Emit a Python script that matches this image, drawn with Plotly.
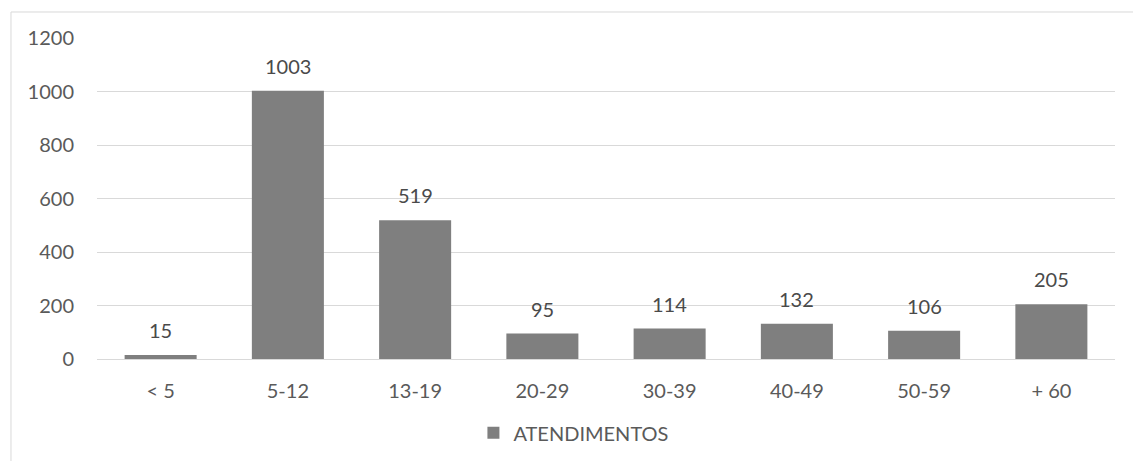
import plotly.graph_objects as go

categories = ["< 5", "5-12", "13-19", "20-29", "30-39", "40-49", "50-59", "+ 60"]
values = [15, 1003, 519, 95, 114, 132, 106, 205]
series_name = "ATENDIMENTOS"
y_ticks = [0, 200, 400, 600, 800, 1000, 1200]

FONT = "Lato, 'Open Sans', sans-serif"
BAR = "#7f7f7f"
GRID = "#d9d9d9"

fig = go.Figure()
fig.add_trace(go.Bar(
    x=categories, y=values, name=series_name,
    marker=dict(color=BAR, line=dict(width=0)),
    showlegend=True,
))

for c, v in zip(categories, values):
    fig.add_annotation(x=c, y=v, text=str(v), showarrow=False,
                       yanchor="bottom", yshift=11,
                       font=dict(family=FONT, size=20, color="#4a4a4a"))

fig.add_shape(type="rect", xref="paper", yref="paper",
              x0=-0.0845, x1=1.2, y0=-0.6, y1=1.081,
              line=dict(color=GRID, width=1), layer="below")

fig.update_layout(
    width=1133, height=461,
    margin=dict(l=97, r=18, t=38, b=102, autoexpand=False),
    paper_bgcolor="white", plot_bgcolor="white",
    bargap=0.434,
    font=dict(family=FONT, size=20, color="#5a5a5a"),
    xaxis=dict(showgrid=False, showline=False, ticks="",
               ticklabelstandoff=18, automargin=False,
               tickfont=dict(family=FONT, size=20, color="#5a5a5a")),
    yaxis=dict(range=[0, 1200], tickvals=y_ticks, showgrid=True,
               gridcolor=GRID, gridwidth=1, zeroline=True,
               zerolinecolor=GRID, zerolinewidth=1, showline=False,
               ticks="", ticklabelstandoff=22, automargin=False,
               tickfont=dict(family=FONT, size=20, color="#5a5a5a")),
    legend=dict(orientation="h", x=0.468, xanchor="center",
                y=-0.23, yanchor="middle",
                font=dict(family=FONT, size=20, color="#5a5a5a"),
                itemwidth=30),
)

fig.write_html("out.html")
